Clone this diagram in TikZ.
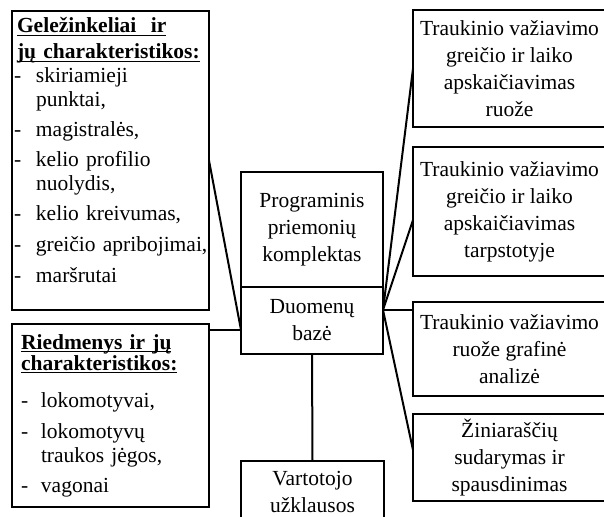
\documentclass[tikz,border=0pt]{standalone}
\usepackage{fontspec}
\setmainfont{Liberation Serif}
\newcommand{\headul}[1]{\leavevmode\setbox0\hbox{\bfseries #1}\rlap{\rule[-3.2pt]{\wd0}{1.5pt}}\box0}
\newcommand{\dashitem}[2][22pt]{\makebox[#1][l]{-}#2}
\newcommand{\contline}[2][22pt]{\makebox[#1][l]{}#2}
\begin{document}
\begin{tikzpicture}[x=1pt, y=-1pt,
	box/.style={draw, line width=2.4pt, outer sep=0pt, inner sep=2pt, align=center,
		font=\fontsize{21.5}{27}\selectfont},
	listbox/.style={draw, line width=2.4pt, outer sep=0pt, anchor=north west, align=left,
		font=\fontsize{21.5}{24}\selectfont},
	link/.style={line width=2pt}]
	\useasboundingbox (0,0) rectangle (604,516);
	\clip (0,0) rectangle (604,516);
	% left: input data
	\node[listbox, inner xsep=2pt, inner ysep=5pt, text width=193pt, text height=17pt, text depth=272pt] (rail) at (12,11)
		{\begin{tabular}[t]{@{}l@{}}
		\hspace*{3pt}\headul{Geležinkeliai\ \ ir}\\[2pt]
		\hspace*{3pt}\headul{jų charakteristikos:}\\
		\dashitem{skiriamieji}\\
		\contline{punktai,}\\[6pt]
		\dashitem{magistralės,}\\[6pt]
		\dashitem{kelio profilio}\\
		\contline{nuolydis,}\\[6pt]
		\dashitem{kelio kreivumas,}\\[7pt]
		\dashitem{greičio apribojimai,}\\[6pt]
		\dashitem{maršrutai}
		\end{tabular}};
	\node[listbox, inner xsep=9pt, inner ysep=5pt, text width=179pt, text height=20pt, text depth=153pt] (stock) at (12,324)
		{\begin{tabular}[t]{@{}l@{}}
		\headul{Riedmenys ir jų}\\[-3pt]
		\headul{charakteristikos:}\\[13pt]
		\dashitem[20pt]{lokomotyvai,}\\[7pt]
		\dashitem[20pt]{lokomotyvų}\\
		\contline[20pt]{traukos jėgos,}\\[6pt]
		\dashitem[20pt]{vagonai}
		\end{tabular}};
	% centre
	\node[box, minimum width=142pt, minimum height=115pt] (prog) at (312,229.5) {Programinis\\priemonių\\komplektas};
	\node[box, minimum width=142pt, minimum height=67pt] (db) at (312,320.5) {Duomenų\\bazė};
	\node[box, minimum width=143pt, minimum height=61pt] (query) at (312.5,491.5) {Vartotojo\\užklausos};
	% right: results
	\node[box, minimum width=193pt, minimum height=117pt] (calcrun) at (509.5,68.5) {Traukinio važiavimo\\greičio ir laiko\\apskaičiavimas\\ruože};
	\node[box, minimum width=193pt, minimum height=129pt] (calcstage) at (509.5,211.5) {Traukinio važiavimo\\greičio ir laiko\\apskaičiavimas\\tarpstotyje};
	\node[box, minimum width=193pt, minimum height=94pt] (graph) at (509.5,349) {Traukinio važiavimo\\ruože grafinė\\analizė};
	\node[box, minimum width=193pt, minimum height=87pt] (sheets) at (509.5,457.5) {Žiniaraščių\\sudarymas ir\\spausdinimas};
	\coordinate (dbin) at ([yshift=-9.5pt]db.west);
	\coordinate (dbout) at ([yshift=10.5pt]db.east);
	\draw[link] (rail.east) -- (dbin);
	\draw[link] (stock.east |- dbin) -- (dbin);
	\draw[link] (db.south) -- (query.north);
	\draw[link] (dbout) -- (calcrun.west);
	\draw[link] (dbout) -- ([yshift=-8.5pt]calcstage.west);
	\draw[link] (dbout) -- (dbout -| graph.west);
	\draw[link] (dbout) -- ([yshift=7.5pt]sheets.west);
\end{tikzpicture}
\end{document}
